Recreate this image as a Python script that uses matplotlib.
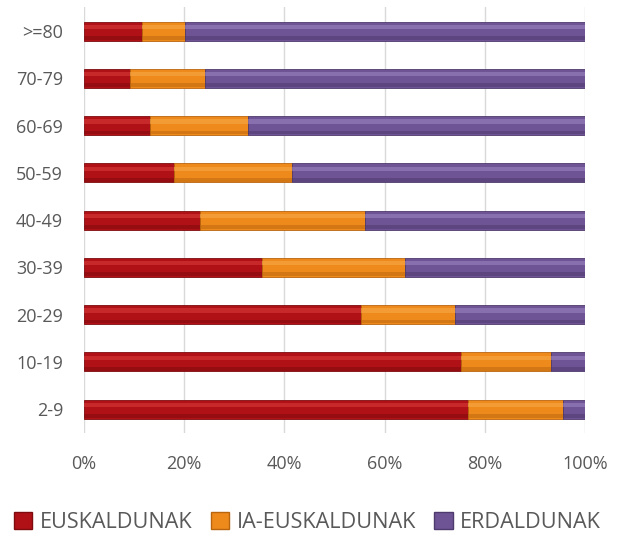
import numpy as np
import matplotlib
matplotlib.use('Agg')
import matplotlib.pyplot as plt
from matplotlib.patches import Patch

plt.rcParams['font.family'] = ['Open Sans', 'DejaVu Sans']

# age groups, bottom to top
groups = ['2-9', '10-19', '20-29', '30-39', '40-49', '50-59', '60-69', '70-79', '>=80']
euskaldunak = [76.7, 75.3, 55.3, 35.5, 23.1, 17.9, 13.2, 9.2, 11.5]
ia_euskaldunak = [18.8, 17.8, 18.8, 28.5, 32.9, 23.6, 19.5, 15.0, 8.7]
erdaldunak = [100 - a - b for a, b in zip(euskaldunak, ia_euskaldunak)]
series_names = ['EUSKALDUNAK', 'IA-EUSKALDUNAK', 'ERDALDUNAK']
xticks = [0, 20, 40, 60, 80, 100]

colors = ['#B01116', '#EE8A1C', '#6E5494']
light = ['#D83A3A', '#F7A948', '#9A82BE']
dark = ['#7E0B0E', '#B8650E', '#4E3A6C']

fig = plt.figure(figsize=(6.26, 5.35), dpi=100)
ax = fig.add_axes([0.134, 0.191, 0.801, 0.795])

y = np.arange(len(groups))
h = 0.40
left = np.zeros(len(groups))
for vals, c, lc, dc in zip([euskaldunak, ia_euskaldunak, erdaldunak], colors, light, dark):
    vals = np.array(vals)
    ax.barh(y, vals, height=h, left=left, color=c, edgecolor=dc, linewidth=0.6, zorder=3)
    # bevel: light band on top, dark band at bottom
    ax.barh(y + h * 0.22, vals, height=h * 0.22, left=left, color=lc, linewidth=0, alpha=0.6, zorder=4)
    ax.barh(y - h * 0.36, vals, height=h * 0.2, left=left, color=dc, linewidth=0, alpha=0.5, zorder=4)
    left = left + vals

ax.set_xlim(0, 100)
ax.set_ylim(-0.5, len(groups) - 0.5)
ax.set_xticks(xticks)
ax.set_xticklabels([f'{t}%' for t in xticks])
ax.set_yticks(y)
ax.set_yticklabels(groups)
ax.tick_params(length=0, labelsize=13, colors='#595959')
ax.tick_params(axis='x', pad=16)
ax.tick_params(axis='y', pad=15)
ax.grid(axis='x', color='#D9D9D9', linewidth=1, zorder=0)
for s in ax.spines.values():
    s.set_visible(False)

handles = [Patch(facecolor=c, edgecolor=dc, label=n) for c, dc, n in zip(colors, dark, series_names)]
fig.legend(handles=handles, loc='center', bbox_to_anchor=(0.491, 0.024), ncol=3, frameon=False,
           fontsize=15.6, handlelength=0.85, handleheight=0.85, handletextpad=0.35, columnspacing=0.85,
           labelcolor='#595959', borderpad=0)

fig.savefig('out.png', dpi=100)
